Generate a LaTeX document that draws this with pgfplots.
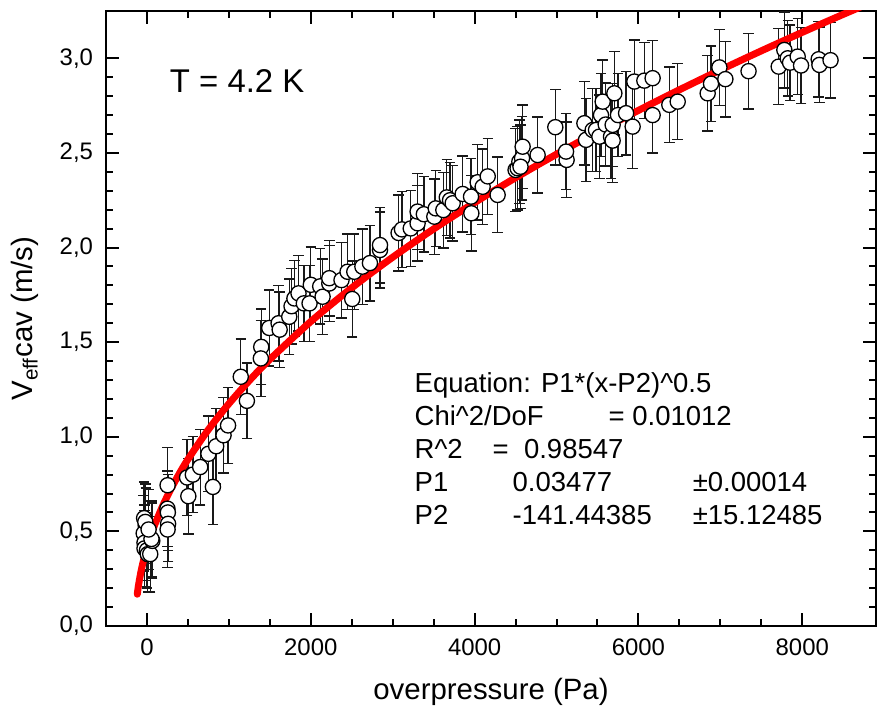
\documentclass[border=0pt]{standalone}
\usepackage{pgfplots}
\pgfplotsset{compat=1.18}
\usepackage{fontspec}
\setmainfont{Liberation Sans}

\pgfplotstableread{
x y e
-35 0.57 0.19
-15 0.53 0.2
-40 0.49 0.2
-30 0.44 0.2
-30 0.41 0.2
0 0.40 0.2
10 0.38 0.2
40 0.38 0.2
65 0.45 0.2
55 0.46 0.2
-20 0.55 0.2
20 0.51 0.21
252 0.744 0.2
250 0.62 0.2
255 0.60 0.2
258 0.54 0.2
252 0.51 0.2
490 0.785 0.2
505 0.686 0.2
560 0.80 0.2
650 0.84 0.2
750 0.91 0.2
805 0.735 0.2
845 0.95 0.2
935 1.008 0.2
990 1.06 0.2
1145 1.317 0.2
1220 1.19 0.2
1395 1.475 0.2
1390 1.414 0.2
1493 1.575 0.2
1607 1.60 0.2
1620 1.566 0.2
1737 1.634 0.2
1765 1.69 0.2
1800 1.731 0.2
1850 1.758 0.2
1915 1.705 0.2
1985 1.705 0.2
2000 1.803 0.2
2115 1.795 0.2
2144 1.74 0.2
2226 1.81 0.2
2226 1.838 0.2
2375 1.828 0.2
2449 1.872 0.2
2506 1.728 0.2
2531 1.872 0.2
2630 1.899 0.2
2722 1.918 0.2
2845 1.987 0.2
2845 2.013 0.2
3072 2.077 0.2
3113 2.096 0.2
3220 2.101 0.2
3304 2.128 0.2
3304 2.19 0.2
3380 2.176 0.2
3508 2.163 0.2
3525 2.207 0.2
3618 2.198 0.2
3660 2.265 0.2
3700 2.25 0.2
3732 2.234 0.2
3854 2.283 0.2
3956 2.269 0.2
3960 2.181 0.2
4037 2.345 0.2
4098 2.321 0.2
4160 2.376 0.2
4281 2.278 0.2
4500 2.41 0.22
4525 2.419 0.22
4546 2.454 0.22
4579 2.472 0.22
4586 2.533 0.22
4560 2.427 0.22
4769 2.489 0.2
4985 2.636 0.2
5123 2.463 0.2
5116 2.507 0.2
5340 2.657 0.22
5360 2.569 0.22
5441 2.621 0.22
5482 2.621 0.22
5523 2.586 0.22
5543 2.70 0.22
5563 2.771 0.22
5600 2.65 0.22
5665 2.586 0.22
5685 2.648 0.22
5685 2.565 0.22
5706 2.815 0.22
5750 2.70 0.22
5849 2.71 0.22
5929 2.639 0.22
5950 2.877 0.22
6072 2.882 0.2
6173 2.895 0.2
6173 2.70 0.2
6377 2.754 0.2
6479 2.771 0.2
6845 2.815 0.2
6886 2.866 0.2
6988 2.952 0.2
7061 2.89 0.2
7344 2.932 0.2
7712 2.956 0.2
7781 3.044 0.2
7822 3.0 0.2
7851 2.977 0.2
7944 3.009 0.2
7985 2.962 0.2
8200 2.995 0.2
8209 2.965 0.2
8345 2.99 0.2
}\datatable

\pgfplotstableread{
x y
-118 0.168
-110 0.195
-100 0.2238
-75 0.2834
-50 0.3325
-20 0.3832
0 0.4135
50 0.4811
100 0.5403
200 0.6425
300 0.7305
400 0.8091
500 0.8806
750 1.0381
1000 1.1747
1250 1.2970
1500 1.4087
2000 1.6090
2500 1.7870
3000 1.9488
3500 2.0982
4000 2.2376
4500 2.3688
5000 2.4931
5500 2.6116
6000 2.7248
6500 2.8336
7000 2.9383
7500 3.0394
8000 3.1373
8500 3.2322
9000 3.3244
}\fittable

\begin{document}
\begin{tikzpicture}
\begin{axis}[
  scale only axis, width=385bp, height=307.5bp,
  xmin=-500, xmax=8900, ymin=0, ymax=3.25,
  xtick={0,2000,4000,6000,8000}, minor x tick num=3,
  ytick={0,0.5,1,1.5,2,2.5,3}, minor y tick num=4,
  tick align=inside, major tick length=6.5bp, minor tick length=3.5bp,
  every tick/.style={black, line width=1bp},
  axis line style={line width=1.3bp},
  tick label style={font=\fontsize{12}{14}\selectfont},
  /pgf/number format/assume math mode=true,
  xticklabel style={/pgf/number format/1000 sep={}, yshift=-3bp},
  yticklabel style={/pgf/number format/.cd, fixed, fixed zerofill, precision=1, use comma, /tikz/.cd, xshift=-3bp},
  xlabel={overpressure (Pa)},
  ylabel={V\textsubscript{eff}cav (m/s)},
  label style={font=\fontsize{14.75}{17}\selectfont},
  xlabel style={at={(axis description cs:0.5,0)}, anchor=base, yshift=-36.5bp},
  ylabel style={at={(axis description cs:0,0.5)}, anchor=center, yshift=40.5bp},
  clip=true,
]
\addplot[only marks, mark=*, mark size=3.8bp,
  mark options={fill=white, draw=black, line width=0.65bp},
  error bars/.cd, y dir=both, y explicit,
  error bar style={line width=0.7bp, black!90},
  error mark options={rotate=90, mark size=2.6bp, line width=0.7bp, black!90}]
  table[x=x, y=y, y error=e] {\datatable};
\addplot[red, line width=3.5bp, line cap=round, no marks, smooth] table[x=x, y=y] {\fittable};
\node[anchor=base west, font=\fontsize{16.5}{19}\selectfont] at (axis cs:195,2.819) {T = 4.2 K};
\begin{scope}[every node/.style={anchor=base west, font=\fontsize{13.8}{16}\selectfont, inner sep=0pt}]
\node at (axis cs:3264,1.236) {Equation: P1*(x-P2)\^{}0.5};
\node at (axis cs:3264,1.061) {Chi\^{}2/DoF};
\node at (axis cs:5632,1.061) {= 0.01012};
\node at (axis cs:3264,0.886) {R\^{}2};
\node at (axis cs:4216,0.886) {=\ \ 0.98547};
\node at (axis cs:3264,0.711) {P1};
\node at (axis cs:4460,0.711) {0.03477};
\node at (axis cs:6658,0.711) {±0.00014};
\node at (axis cs:3264,0.537) {P2};
\node at (axis cs:4460,0.537) {-141.44385};
\node at (axis cs:6658,0.537) {±15.12485};
\end{scope}
\coordinate (SW) at (rel axis cs:0,0);
\coordinate (NE) at (rel axis cs:1,1);
\end{axis}
\pgfresetboundingbox
\path[use as bounding box] ([xshift=-53bp,yshift=-45bp]SW) rectangle ([xshift=0.5bp,yshift=5.5bp]NE);
\end{tikzpicture}
\end{document}
